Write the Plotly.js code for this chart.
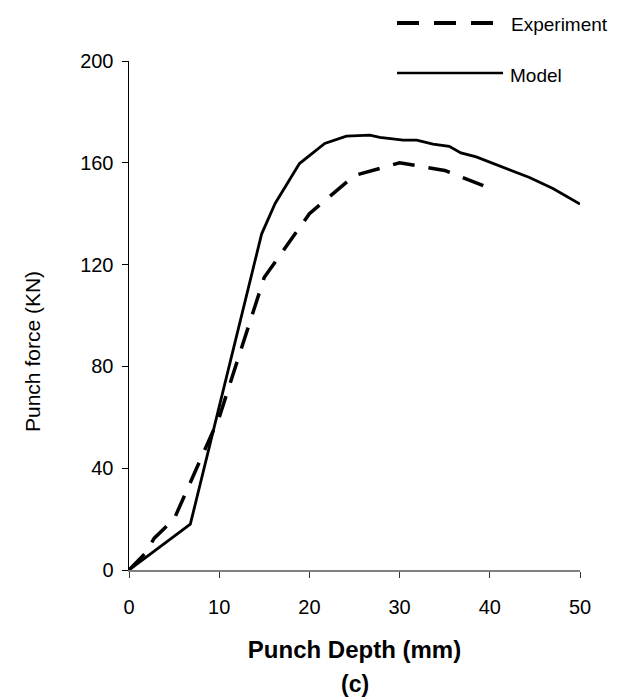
<!DOCTYPE html>
<html>
<head>
<meta charset="utf-8">
<script src="https://cdn.plot.ly/plotly-3.0.1.min.js"></script>
<style>
html,body{margin:0;padding:0;background:#fff;}
#chart{width:623px;height:698px;}
</style>
</head>
<body>
<div id="chart"></div>
<script>
// Experiment series (Punch depth mm, Punch force KN)
const expDepth = [0, 1.8, 2.8, 5, 10, 15, 20, 25, 30, 35, 40];
const expForce = [0, 6.5, 12.5, 20, 60, 115, 140, 155, 160, 157, 150];

// Model series
const modelDepth = [0, 6.8, 14.7, 16.2, 18.9, 21.7, 24.1, 26.7, 27.8, 30.4, 31.9, 33.7, 35.5, 36.8, 38.5, 41.4, 44.4, 47.0, 50.0];
const modelForce = [0, 18, 132, 144, 159.7, 167.6, 170.5, 170.9, 170, 168.9, 168.9, 167.3, 166.5, 163.9, 162.3, 158.4, 154.2, 149.9, 143.8];

// Axis ticks
const xTicks = [0, 10, 20, 30, 40, 50];
const yTicks = [0, 40, 80, 120, 160, 200];

const seriesNames = ["Experiment", "Model"];

const FONT = "Arial, 'Liberation Sans', sans-serif";

const traces = [
  {
    x: expDepth, y: expForce, name: seriesNames[0], type: "scatter", mode: "lines",
    line: {color: "#000", width: 3.5, dash: "22px,14px"}, cliponaxis: false, showlegend: false
  },
  {
    x: modelDepth, y: modelForce, name: seriesNames[1], type: "scatter", mode: "lines",
    line: {color: "#000", width: 2.8}, cliponaxis: false, showlegend: false
  }
];

// legend drawn manually (long line samples as in the reference)
const L = 129, T = 61, W = 451, H = 509;
const px = v => (v - L) / W;
const py = v => (T + H - v) / H;

const layout = {
  width: 623, height: 698,
  margin: {l: 129, r: 43, t: 61, b: 128},
  paper_bgcolor: "#fff", plot_bgcolor: "#fff",
  font: {family: FONT, color: "#000", size: 20},
  showlegend: false,
  xaxis: {
    range: [0, 50], tickvals: xTicks, ticktext: xTicks.map(String),
    showgrid: false, zeroline: false,
    showline: true, linecolor: "#808080", linewidth: 1.5,
    ticks: "outside", ticklen: 6, tickcolor: "#333", tickwidth: 1,
    tickfont: {size: 20, family: FONT, color: "#000"},
    ticklabelstandoff: 12,
    title: {text: "<b>Punch Depth (mm)</b>", font: {size: 24, family: FONT, color: "#000"}, standoff: 24}
  },
  yaxis: {
    range: [0, 200], tickvals: yTicks, ticktext: yTicks.map(String),
    showgrid: false, zeroline: false,
    showline: true, linecolor: "#000", linewidth: 1.5,
    ticks: "outside", ticklen: 6, tickcolor: "#000", tickwidth: 1,
    tickfont: {size: 20, family: FONT, color: "#000"},
    ticklabelstandoff: 4
  },
  shapes: [
    {type: "line", xref: "paper", yref: "paper", x0: px(397), x1: px(502), y0: py(23), y1: py(23),
     line: {color: "#000", width: 4, dash: "22px,15px"}},
    {type: "line", xref: "paper", yref: "paper", x0: px(397), x1: px(503), y0: py(73), y1: py(73),
     line: {color: "#000", width: 2.5}}
  ],
  annotations: [
    {text: seriesNames[0], xref: "paper", yref: "paper", x: px(509), y: py(24), xanchor: "left", yanchor: "middle",
     showarrow: false, font: {size: 19, family: FONT, color: "#000"}},
    {text: seriesNames[1], xref: "paper", yref: "paper", x: px(508), y: py(75), xanchor: "left", yanchor: "middle",
     showarrow: false, font: {size: 19, family: FONT, color: "#000"}},
    {text: "Punch force (KN)", xref: "paper", yref: "paper", x: px(32), y: py(352), xanchor: "center", yanchor: "middle",
     textangle: -90, showarrow: false, font: {size: 21, family: FONT, color: "#000"}},
    {text: "<b>(c)</b>", xref: "paper", yref: "paper", x: 0.5, y: py(684), xanchor: "center", yanchor: "middle",
     showarrow: false, font: {size: 23, family: FONT, color: "#000"}}
  ]
};

Plotly.newPlot("chart", traces, layout, {displayModeBar: false, staticPlot: true});
</script>
</body>
</html>
